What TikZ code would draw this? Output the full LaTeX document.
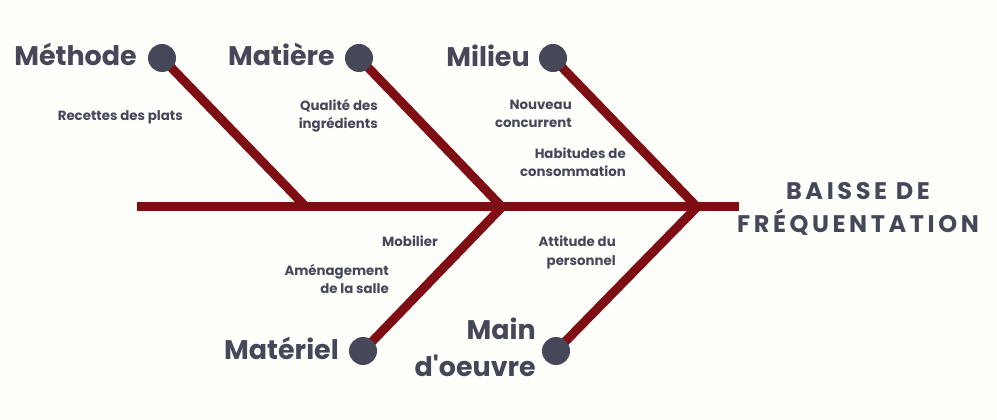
\documentclass[tikz,border=0pt]{standalone}
\usepackage{fontspec}
\setmainfont{Poppins}[Ligatures=TeXOff]
\definecolor{bone}{HTML}{7F0D14}
\definecolor{ink}{HTML}{464859}
\definecolor{bg}{HTML}{FEFEFB}
\begin{document}
\begin{tikzpicture}[x=0.75pt,y=-0.75pt,
  bonel/.style={line width=6.75pt, draw=bone, miter limit=10},
  dot/.style={circle, fill=ink, minimum size=21pt, inner sep=0pt},
  big/.style={font=\fontsize{20.2}{20.2}\selectfont\bfseries, text=ink, inner sep=0pt},
  small/.style={font=\fontsize{10}{10}\selectfont\bfseries, text=ink, inner sep=0pt},
  headt/.style={font=\fontsize{18}{18}\selectfont\bfseries\addfontfeatures{LetterSpace=15}, text=ink, inner sep=0pt}]
\fill[bg] (0,0) rectangle (997,420);
\useasboundingbox (0,0) rectangle (997,420);
% spine and junctions
\coordinate (tail) at (137,207);
\coordinate (tip) at (739,207);
\coordinate (j1) at (306,207);
\coordinate (j2) at (502,207);
\coordinate (j3) at (697,207);
% category dot centres
\coordinate (cMethode) at (162,58);
\coordinate (cMatiere) at (359,58);
\coordinate (cMilieu) at (553,58);
\coordinate (cMateriel) at (363,351);
\coordinate (cMain) at (556,351);
% bones
\draw[bonel] (tail) -- (tip);
\draw[bonel] (cMethode) -- (j1);
\draw[bonel] (cMatiere) -- (j2) -- (cMateriel);
\draw[bonel] (cMilieu) -- (j3) -- (cMain);
% dots
\node[dot] (dMethode) at (cMethode) {};
\node[dot] (dMatiere) at (cMatiere) {};
\node[dot] (dMilieu) at (cMilieu) {};
\node[dot] (dMateriel) at (cMateriel) {};
\node[dot] (dMain) at (cMain) {};
% category labels
\node[big, anchor=base east] (lMethode) at (137,66) {Méthode};
\node[big, anchor=base east] (lMatiere) at (335,66) {Matière};
\node[big, anchor=base east] (lMilieu) at (530,67) {Milieu};
\node[big, anchor=base east] (lMateriel) at (339,360) {Matériel};
\node[big, anchor=base east] (lMain1) at (536,340) {Main};
\node[big, anchor=base east] (lMain2) at (536,377) {d'oeuvre};
% effect
\node[headt, anchor=base] (e1) at (858,200) {BAISSE DE};
\node[headt, anchor=base] (e2) at (858,233) {FRÉQUENTATION};
% causes
\node[small, anchor=base east] (r1) at (183,121) {Recettes des plats};
\node[small, anchor=base east] (q1) at (378,111) {Qualité des};
\node[small, anchor=base east] (q2) at (378,129) {ingrédients};
\node[small, anchor=base east] (n1) at (572,110) {Nouveau};
\node[small, anchor=base east] (n2) at (572,128) {concurrent};
\node[small, anchor=base east] (h1) at (626,159) {Habitudes de};
\node[small, anchor=base east] (h2) at (626,177) {consommation};
\node[small, anchor=base east] (m1) at (438,247) {Mobilier};
\node[small, anchor=base east] (a1) at (389,276) {Aménagement};
\node[small, anchor=base east] (a2) at (389,294) {de la salle};
\node[small, anchor=base east] (t1) at (616,247) {Attitude du};
\node[small, anchor=base east] (t2) at (616,266) {personnel};
\end{tikzpicture}
\end{document}
